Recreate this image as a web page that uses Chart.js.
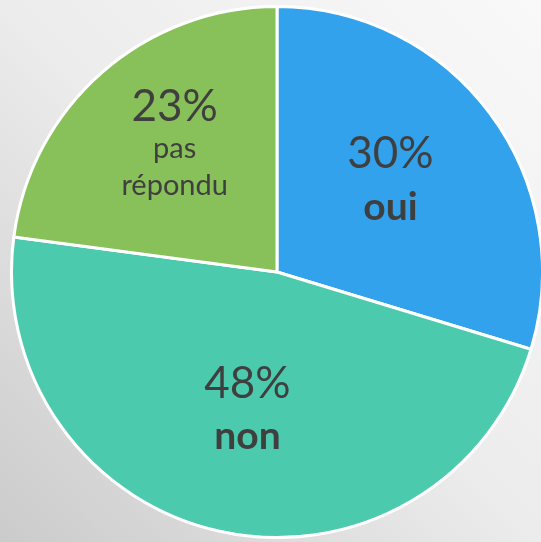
<!DOCTYPE html>
<html>
<head>
<meta charset="utf-8">
<script src="https://cdn.jsdelivr.net/npm/chart.js@4"></script>
<style>
  html, body { margin: 0; padding: 0; }
  body {
    width: 541px; height: 542px; overflow: hidden; position: relative;
    background: linear-gradient(to bottom left, #f9f9f9 0%, #ececec 50%, #cbcbcb 100%);
  }
  #wrap { position: absolute; left: 10px; top: 5px; width: 534px; height: 534px; }
</style>
</head>
<body>
<div id="wrap"><canvas id="myChart" width="534" height="534"></canvas></div>
<script>
const categories = ['oui', 'non', 'pas répondu'];
const valeurs = [29.7, 47.4, 22.9];
const pctLabels = ['30%', '48%', '23%'];
const nameLines = [['oui'], ['non'], ['pas', 'répondu']];
const couleurs = ['#31a2eb', '#4bcaad', '#88c05a'];

const ctx = document.getElementById('myChart').getContext('2d');

// label placement / fonts per slice
const labelFactor = [0.554, 0.525, 0.623];
const labelTurn = [-3, 0, 3]; // degrees
const nameFont = [
    { size: 39, weight: 'bold', lh: 52 },
    { size: 39, weight: 'bold', lh: 51 },
    { size: 29, weight: 'normal', lh: 37 }
];
const FONT = 'Lato, "DejaVu Sans", sans-serif';
const PCT_SIZE = 44;
const CAP = 31;

const sliceLabels = {
    id: 'sliceLabels',
    afterDatasetsDraw(chart) {
        const c = chart.ctx;
        const meta = chart.getDatasetMeta(0);
        meta.data.forEach((arc, i) => {
            const p = arc.getProps(['x', 'y', 'startAngle', 'endAngle', 'outerRadius'], true);
            const mid = (p.startAngle + p.endAngle) / 2 + labelTurn[i] * Math.PI / 180;
            const r = p.outerRadius * labelFactor[i];
            const cx = p.x + Math.cos(mid) * r;
            const cy = p.y + Math.sin(mid) * r;

            const lines = [{ text: pctLabels[i], size: PCT_SIZE, weight: 'normal', lh: 0 }];
            nameLines[i].forEach(t => lines.push({ text: t, size: nameFont[i].size, weight: nameFont[i].weight, lh: nameFont[i].lh }));

            let total = CAP;
            for (let k = 1; k < lines.length; k++) total += lines[k].lh;
            let y = cy - total / 2 + CAP;

            c.save();
            c.fillStyle = '#3f3f3f';
            c.textAlign = 'center';
            c.textBaseline = 'alphabetic';
            lines.forEach((l, k) => {
                if (k > 0) y += l.lh;
                c.font = l.weight + ' ' + l.size + 'px ' + FONT;
                c.fillText(l.text, cx, y);
            });
            c.restore();
        });
    }
};

const myChart = new Chart(ctx, {
    type: 'pie',
    data: {
        labels: categories,
        datasets: [{
            data: valeurs,
            backgroundColor: couleurs,
            borderColor: '#ffffff',
            borderWidth: 3
        }]
    },
    options: {
        responsive: false,
        animation: false,
        layout: { padding: 0 },
        plugins: {
            legend: { display: false },
            tooltip: { enabled: false }
        }
    },
    plugins: [sliceLabels]
});
</script>
</body>
</html>
